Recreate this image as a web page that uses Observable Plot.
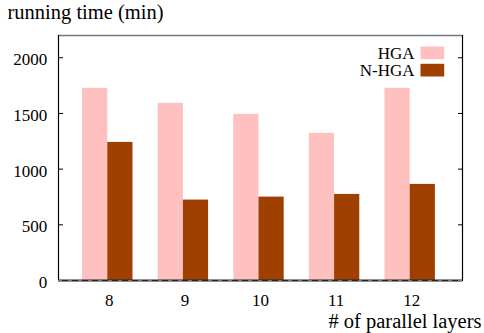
<!DOCTYPE html>
<html>
<head>
<meta charset="utf-8">
<script src="https://cdn.jsdelivr.net/npm/d3@7"></script>
<script src="https://cdn.jsdelivr.net/npm/@observablehq/plot@0.6"></script>
<style>
  html, body { margin: 0; padding: 0; background: #fff; }
  svg text { font-family: 'Liberation Serif', 'DejaVu Serif', serif !important; }
</style>
</head>
<body>
<div id="chart"></div>
<script>
// ---- data ----
const layers = ["8", "9", "10", "11", "12"];
const series = ["HGA", "N-HGA"];
const hga = [1726, 1591, 1492, 1321, 1726];
const nhga = [1240, 722, 749, 773, 863];
const yTicks = [0, 500, 1000, 1500, 2000];
const colors = ["#ffc0c0", "#a04000"];

const values = [hga, nhga];
const table = [];
series.forEach((s, k) => layers.forEach((l, i) => table.push({layer: l, i, series: s, k, value: values[k][i]})));

const barW = 1 / 3;
const yMax = 2200;
const xDom = [-0.652, 4.692];

const font = "'Liberation Serif', 'DejaVu Serif', serif";

// custom rectangular swatch symbol
const swatch = {draw(ctx) { ctx.rect(-11.85, -6.35, 23.7, 12.7); }};

const legendMarks = series.flatMap((s, k) => [
  Plot.text([s], {frameAnchor: "top-right", dx: -48, dy: 23.3 + 17 * k, textAnchor: "end", lineAnchor: "bottom", fontSize: 17, fontFamily: font, fill: "#000"}),
  Plot.dot([s], {x: null, y: null, frameAnchor: "top-right", dx: -30.15, dy: 17.35 + 17.3 * k, symbol: swatch, fill: colors[k], stroke: "none"})
]);

const chart = Plot.plot({
  width: 484,
  height: 333,
  marginLeft: 58,
  marginRight: 22,
  marginTop: 35,
  marginBottom: 53,
  style: {fontFamily: font, fontSize: "17px", background: "#fff", color: "#000", overflow: "visible"},
  x: {type: "linear", domain: xDom, axis: null},
  y: {domain: [0, yMax], axis: null},
  color: {domain: series, range: colors},
  marks: [
    Plot.rectY(table, {
      x1: d => d.i + (d.k === 0 ? -barW : 0),
      x2: d => d.i + (d.k === 0 ? 0 : barW),
      y1: 0,
      y2: "value",
      fill: "series"
    }),
    // y tick labels
    Plot.text(yTicks, {y: d => d, text: d => String(d), frameAnchor: "left", dx: -11.3, dy: 7.4, textAnchor: "end", lineAnchor: "bottom", fontSize: 17, fontFamily: font, fill: "#000"}),
    // inward ticks left
    Plot.axisY(yTicks, {anchor: "left", tickSize: 5, insetLeft: 5, tickFormat: () => "", label: null, stroke: "#000"}),
    // inward ticks right (mirror)
    Plot.axisY(yTicks, {anchor: "right", tickSize: 5, insetRight: 5, tickFormat: () => "", label: null, stroke: "#000"}),
    // x tick labels
    Plot.text(d3.range(layers.length), {x: d => d, text: i => layers[i], frameAnchor: "bottom", dx: 1.5, dy: 25.8, lineAnchor: "bottom", fontSize: 17, fontFamily: font, fill: "#000"}),
    // border
    Plot.ruleY([yMax], {stroke: "#777", strokeWidth: 1.5}),
    Plot.ruleX([xDom[0]], {stroke: "#000", strokeWidth: 1.2}),
    Plot.ruleX([xDom[1]], {stroke: "#000", strokeWidth: 1.2}),
    Plot.ruleY([0], {stroke: "#222", strokeWidth: 2}),
    Plot.ruleY([0], {stroke: "#777", strokeWidth: 1, strokeDasharray: "4,6"}),
    // titles
    Plot.text(["running time (min)"], {frameAnchor: "top-left", dx: -51, dy: -16.5, textAnchor: "start", lineAnchor: "bottom", fontSize: 20.5, fontFamily: font, fill: "#000"}),
    Plot.text(["# of parallel layers"], {frameAnchor: "bottom-right", dx: 19, dy: 47.7, textAnchor: "end", lineAnchor: "bottom", fontSize: 20.5, fontFamily: font, fill: "#000"}),
    ...legendMarks
  ]
});

document.getElementById("chart").appendChild(chart);
</script>
</body>
</html>
